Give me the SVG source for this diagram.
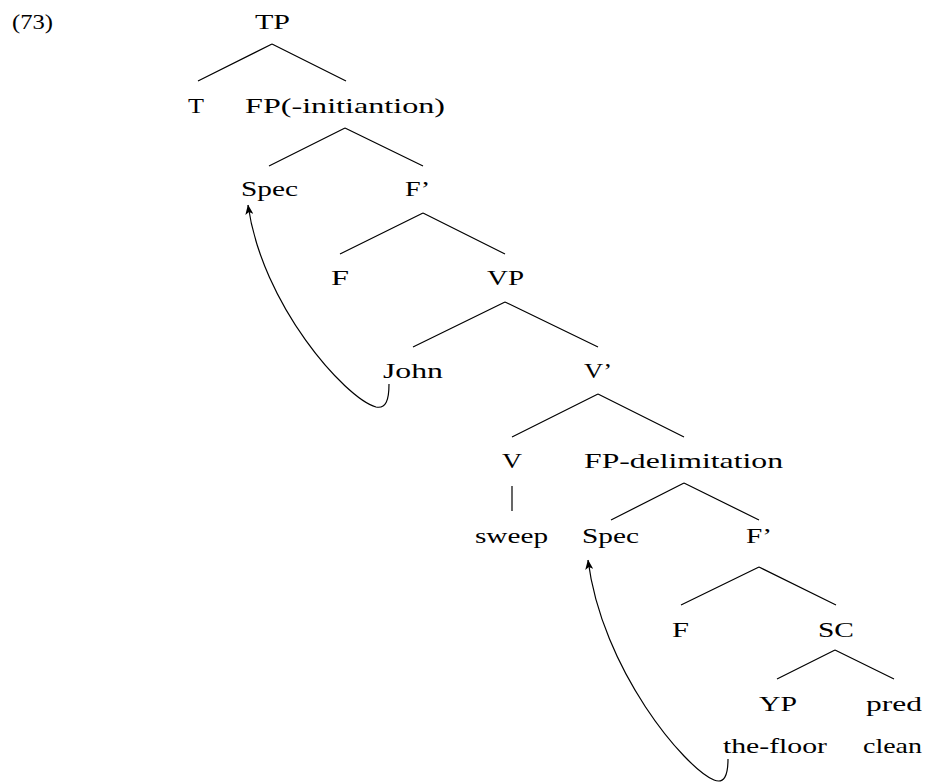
<svg xmlns="http://www.w3.org/2000/svg" width="929" height="783" viewBox="0 0 929 783">
<style>
text{font-family:"Liberation Serif","DejaVu Serif",serif;font-size:21.5px;fill:#000}
.e{stroke:#000;stroke-width:1.2;fill:none}
.m{stroke:#000;stroke-width:1.2;fill:none;marker-end:url(#ah)}
</style>
<defs>
<marker id="ah" markerUnits="userSpaceOnUse" markerWidth="10" markerHeight="8" viewBox="0 0 10 8" refX="9.5" refY="4" orient="auto">
<path d="M0,0 L10,4 L0,8 L2.5,4 Z" fill="#000"/>
</marker>
</defs>
<rect width="929" height="783" fill="#fff"/>
<text id="label" x="12" y="29" textLength="41" lengthAdjust="spacingAndGlyphs">(73)</text>
<g id="connectors">
<path class="e" d="M272,44 L198,81 M272,44 L346,81"/>
<path class="e" d="M345,128 L269,166 M345,128 L423,166"/>
<path class="e" d="M423,213 L340,254 M423,213 L505,254"/>
<path class="e" d="M505,302 L413,347 M505,302 L598,347"/>
<path class="e" d="M598,394 L512,437 M598,394 L684,437"/>
<path class="e" d="M512,486 L512,511"/>
<path class="e" d="M684,483 L611,520 M684,483 L759,520"/>
<path class="e" d="M759,567 L681,605 M759,567 L836,605"/>
<path class="e" d="M835,650 L777,679 M835,650 L894,679"/>
<path class="m" d="M389,384 C389,400 386,409 376,407 C345,398 262,305 248,205"/>
<path class="m" d="M728,759 C728,776 724,784 714,780 C685,768 602,670 588,560"/>
</g>
<g id="n-TP"><text x="255" y="29" textLength="35" lengthAdjust="spacingAndGlyphs">TP</text></g>
<g id="n-T"><text x="188" y="113" textLength="16" lengthAdjust="spacingAndGlyphs">T</text></g>
<g id="n-FP1"><text x="245" y="113" textLength="200" lengthAdjust="spacingAndGlyphs">FP(-initiantion)</text></g>
<g id="n-Spec1"><text x="241" y="196" textLength="57" lengthAdjust="spacingAndGlyphs">Spec</text></g>
<g id="n-Fbar1"><text x="405" y="196" textLength="25" lengthAdjust="spacingAndGlyphs">F’</text></g>
<g id="n-F1"><text x="331" y="285" textLength="18" lengthAdjust="spacingAndGlyphs">F</text></g>
<g id="n-VP"><text x="487" y="285" textLength="37" lengthAdjust="spacingAndGlyphs">VP</text></g>
<g id="n-John"><text x="383" y="378" textLength="60" lengthAdjust="spacingAndGlyphs">John</text></g>
<g id="n-Vbar"><text x="584" y="378" textLength="28" lengthAdjust="spacingAndGlyphs">V’</text></g>
<g id="n-V"><text x="502" y="468" textLength="20" lengthAdjust="spacingAndGlyphs">V</text></g>
<g id="n-FP2"><text x="584" y="468" textLength="199" lengthAdjust="spacingAndGlyphs">FP-delimitation</text></g>
<g id="n-sweep"><text x="475" y="543" textLength="73" lengthAdjust="spacingAndGlyphs">sweep</text></g>
<g id="n-Spec2"><text x="582" y="543" textLength="57" lengthAdjust="spacingAndGlyphs">Spec</text></g>
<g id="n-Fbar2"><text x="746" y="543" textLength="26" lengthAdjust="spacingAndGlyphs">F’</text></g>
<g id="n-F2"><text x="672" y="637" textLength="17" lengthAdjust="spacingAndGlyphs">F</text></g>
<g id="n-SC"><text x="818" y="637" textLength="36" lengthAdjust="spacingAndGlyphs">SC</text></g>
<g id="n-YP"><text x="759" y="711" textLength="38" lengthAdjust="spacingAndGlyphs">YP</text></g>
<g id="n-pred"><text x="866" y="711" textLength="56" lengthAdjust="spacingAndGlyphs">pred</text></g>
<g id="n-thefloor"><text x="723" y="753" textLength="104" lengthAdjust="spacingAndGlyphs">the-floor</text></g>
<g id="n-clean"><text x="863" y="753" textLength="59" lengthAdjust="spacingAndGlyphs">clean</text></g>
</svg>
